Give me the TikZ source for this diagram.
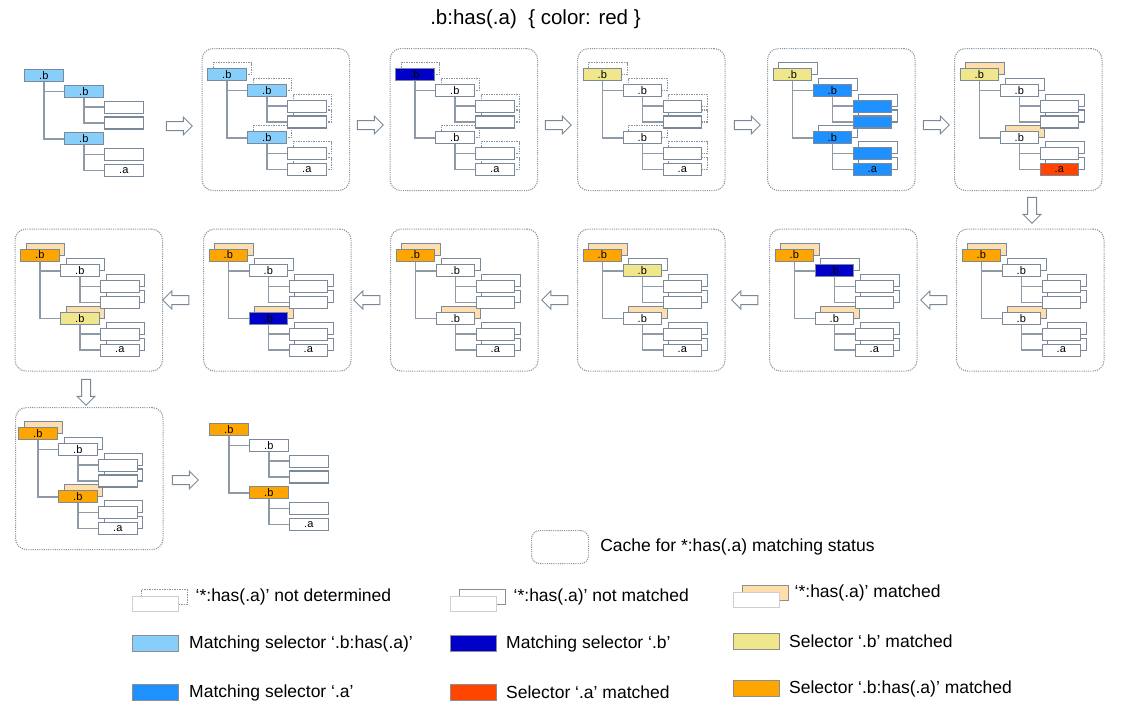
\documentclass[tikz,border=0pt]{standalone}
\usepackage{fontspec}
\setmainfont{Liberation Sans}
\usepackage{xcolor}
\usetikzlibrary{positioning,shapes.arrows}
\definecolor{boxline}{HTML}{7A8A9A}
\definecolor{linkgray}{HTML}{8E9AA6}
\definecolor{cachegray}{HTML}{8A949E}
\definecolor{arrowgray}{HTML}{7C8896}
\definecolor{swgray}{HTML}{8E8E8E}
\definecolor{lightline}{HTML}{CFCFCF}
\definecolor{skyb}{HTML}{87CEFA}
\definecolor{deepb}{HTML}{0000C8}
\definecolor{dodger}{HTML}{1E90FF}
\definecolor{khakib}{HTML}{F0E68C}
\definecolor{redo}{HTML}{FF4500}
\definecolor{oranged}{HTML}{FFA500}
\definecolor{peach}{HTML}{FFDEAD}
\newcommand{\treefont}{\fontsize{11}{12}\selectfont}
\newcommand{\legfont}{\fontsize{17.5}{20}\selectfont}
\newcommand{\titlefont}{\fontsize{20.5}{24}\selectfont}
% #1 name, #2 root corner, #3 shadow of the .b:has nodes, #4 other shadows,
% #5 root, #6 first .b, #7 second .b, #8 empty leaves, #9 .a
\newcommand{\cachetree}[9]{%
\begin{scope}[shift={(#2)}]
  \node[box, #3] (#1rs) at (5.5,-6) {};
  \node[box, #4] (#1cs) at (45.5,9.8) {};
  \node[box, #4] (#1ks) at (85.5,25.6) {};
  \node[box, #4] (#1ls) at (85.5,41.4) {};
  \node[box, #3] (#1ds) at (45.5,57.3) {};
  \node[box, #4] (#1ms) at (85.5,73) {};
  \node[box, #4] (#1as) at (85.5,89) {};
  \node[box, #5] (#1r) at (0,0) {.b};
  \node[box, #6] (#1c) at (40,15.8) {.b};
  \node[box, #8] (#1k) at (80,31.6) {};
  \node[box, #8] (#1l) at (80,47.4) {};
  \node[box, #7] (#1d) at (40,63.3) {.b};
  \node[box, #8] (#1m) at (80,79) {};
  \node[box, #9] (#1a) at (80,95) {.a};
  \draw[link] (#1r.south) |- (#1c.west);
  \draw[link] (#1r.south) |- (#1d.west);
  \draw[link] (#1c.south) |- (#1k.west);
  \draw[link] (#1c.south) |- (#1l.west);
  \draw[link] (#1d.south) |- (#1m.west);
  \draw[link] (#1d.south) |- (#1a.west);
\end{scope}}

\begin{document}
\begin{tikzpicture}[x=1pt, y=-1pt,
  box/.style={draw=boxline, fill=white, line width=1.1pt, minimum width=38.5pt,
              minimum height=12pt, inner sep=0pt, anchor=north west, font=\treefont},
  link/.style={draw=linkgray, line width=1.4pt},
  cache/.style={draw=cachegray, line width=1.1pt, dash pattern=on 1.1pt off 1.1pt,
                rounded corners=11pt, minimum width=147.5pt, minimum height=142pt,
                inner sep=0pt, anchor=north west},
  hollow/.style={single arrow, draw=arrowgray, fill=white, line width=1pt,
                 minimum height=26pt, single arrow head extend=4.5pt,
                 inner sep=4pt},
  snone/.style={draw=none, fill=none},
  sund/.style={draw=cachegray, dash pattern=on 1.5pt off 1pt, fill=white},
  sno/.style={fill=white},
  syes/.style={fill=peach},
  fwhite/.style={fill=white},
  fmhas/.style={fill=skyb},
  fmb/.style={fill=deepb},
  fma/.style={fill=dodger},
  fokb/.style={fill=khakib},
  foka/.style={fill=redo},
  fokhas/.style={fill=oranged},
  swatch/.style={draw=swgray, line width=1pt, minimum width=46pt,
                 minimum height=16pt, inner sep=0pt, anchor=north west},
  legbox/.style={swatch, minimum height=15pt, draw=lightline, fill=white},
  legtext/.style={font=\legfont, inner sep=0pt, anchor=west},
]
\useasboundingbox (0,0) rectangle (1121,721);
\node[font=\titlefont, inner sep=0pt] (title) at (535.5,19) {.b:has(.a)\ \ \{ color: red \}};

\cachetree{p0}{24,69}{snone}{snone}{fmhas}{fmhas}{fmhas}{fwhite}{fwhite}
\node[cache] (f1) at (201.5,48) {};
\cachetree{p1}{207,68}{sund}{sund}{fmhas}{fmhas}{fmhas}{fwhite}{fwhite}
\node[cache] (f2) at (389.5,48) {};
\cachetree{p2}{395,68}{sund}{sund}{fmb}{fwhite}{fwhite}{fwhite}{fwhite}
\node[cache] (f3) at (577,48) {};
\cachetree{p3}{582.5,68}{sund}{sund}{fokb}{fwhite}{fwhite}{fwhite}{fwhite}
\node[cache] (f4) at (767,48) {};
\cachetree{p4}{772.5,68}{sno}{sno}{fokb}{fma}{fma}{fma}{fma}
\node[cache] (f5) at (954,48) {};
\cachetree{p5}{959.5,68}{syes}{sno}{fokb}{fwhite}{fwhite}{fwhite}{foka}

\node[cache] (f6) at (956,228.5) {};
\cachetree{p6}{961.5,248.5}{syes}{sno}{fokhas}{fwhite}{fwhite}{fwhite}{fwhite}
\node[cache] (f7) at (769,228.5) {};
\cachetree{p7}{774.5,248.5}{syes}{sno}{fokhas}{fmb}{fwhite}{fwhite}{fwhite}
\node[cache] (f8) at (577,228.5) {};
\cachetree{p8}{582.5,248.5}{syes}{sno}{fokhas}{fokb}{fwhite}{fwhite}{fwhite}
\node[cache] (f9) at (390,228.5) {};
\cachetree{p9}{395.5,248.5}{syes}{sno}{fokhas}{fwhite}{fwhite}{fwhite}{fwhite}
\node[cache] (f10) at (203,228.5) {};
\cachetree{p10}{208.5,248.5}{syes}{sno}{fokhas}{fwhite}{fmb}{fwhite}{fwhite}
\node[cache] (f11) at (14.5,228.5) {};
\cachetree{p11}{20,248.5}{syes}{sno}{fokhas}{fwhite}{fokb}{fwhite}{fwhite}

\node[cache] (f12) at (15,407) {};
\cachetree{p12}{18,427}{syes}{sno}{fokhas}{fwhite}{fokhas}{fwhite}{fwhite}
\cachetree{p13}{209,423}{snone}{snone}{fokhas}{fwhite}{fokhas}{fwhite}{fwhite}

\node[hollow] (a1) at (177,126) {};
\node[hollow] (a2) at (368,125) {};
\node[hollow] (a3) at (556,125) {};
\node[hollow] (a4) at (745,125) {};
\node[hollow] (a5) at (934,125) {};
\node[hollow, shape border rotate=270] (a6) at (1032,208) {};
\node[hollow, shape border rotate=180] (a7) at (936,300) {};
\node[hollow, shape border rotate=180] (a8) at (747,300) {};
\node[hollow, shape border rotate=180] (a9) at (557,300) {};
\node[hollow, shape border rotate=180] (a10) at (369,300) {};
\node[hollow, shape border rotate=180] (a11) at (178,300) {};
\node[hollow, shape border rotate=270] (a12) at (86,390) {};
\node[hollow] (a13) at (183,480) {};

\node[cache, minimum width=57pt, minimum height=33pt, rounded corners=8pt] (kcache) at (531,530) {};
\node[legtext, right=11pt of kcache] (tcache) {Cache for *:has(.a) matching status};

\node[legbox, sund] (kund) at (140.5,589) {};
\node[legbox] (kundf) at (132,596) {};
\node[legtext, right=8pt of kund] (tund) {‘*:has(.a)’ not determined};
\node[legbox, draw=swgray] (kno) at (458.5,589) {};
\node[legbox] (knof) at (450,596) {};
\node[legtext, right=8pt of kno] (tno) {‘*:has(.a)’ not matched};
\node[legbox, draw=swgray, fill=peach] (kyes) at (741.5,585) {};
\node[legbox] (kyesf) at (733,592) {};
\node[legtext, right=6pt of kyes] (tyes) {‘*:has(.a)’ matched};

\node[swatch, fmhas] (kmhas) at (132,635) {};
\node[legtext, right=10pt of kmhas] (tmhas) {Matching selector ‘.b:has(.a)’};
\node[swatch, fmb] (kmb) at (450,635) {};
\node[legtext, right=9pt of kmb] (tmb) {Matching selector ‘.b’};
\node[swatch, fokb] (kokb) at (733,633) {};
\node[legtext, right=9pt of kokb] (tokb) {Selector ‘.b’ matched};

\node[swatch, fma] (kma) at (132,684) {};
\node[legtext, right=10pt of kma] (tma) {Matching selector ‘.a’};
\node[swatch, foka] (koka) at (450,684) {};
\node[legtext, right=9pt of koka] (toka) {Selector ‘.a’ matched};
\node[swatch, fokhas] (kokhas) at (733,680) {};
\node[legtext, right=9pt of kokhas] (tokhas) {Selector ‘.b:has(.a)’ matched};
\end{tikzpicture}
\end{document}
